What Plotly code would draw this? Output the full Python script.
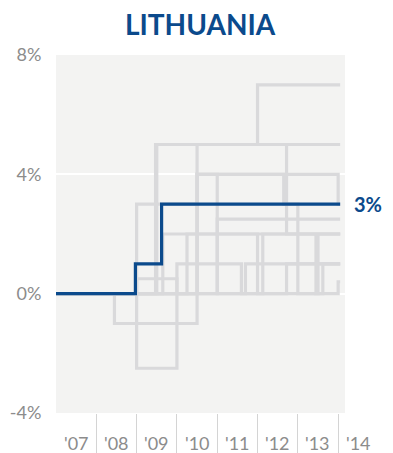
import plotly.graph_objects as go

# ---------------- data ----------------
title_text = "LITHUANIA"
start_year = 2007
end_year = 2014.05
year_labels = ["'07", "'08", "'09", "'10", "'11", "'12", "'13", "'14"]
label_years = [2007, 2008, 2009, 2010, 2011, 2012, 2013, 2014]
sep_years = [2008, 2009, 2010, 2011, 2012, 2013, 2014]
y_ticks = [-4, 0, 4, 8]
y_ticktext = ["-4%", "0%", "4%", "8%"]

# Lithuania: change points (year, value %)
lt_years = [2007, 2008.97, 2009.62]
lt_values = [0, 1, 3]

# other countries (gray): change points
g1_years = [2007, 2009.47, 2012.0];               g1_values = [0, 5, 7]
g2_years = [2007, 2008.45, 2010.5, 2012.72];      g2_values = [0, -1, 5, 2]
g3_years = [2007, 2009.0, 2010.5, 2014.0];        g3_values = [0, 3, 4, 3]
g4_years = [2007, 2009.0, 2010.0, 2011.6, 2011.7]; g4_values = [0, -2.5, 1, 0, 1]
g5_years = [2007, 2009.0, 2010.0, 2014.0];        g5_values = [0, 0.5, 0, 0.4]
g6_years = [2007, 2009.65, 2012.0, 2012.13];      g6_values = [0, 2, 0, 2]
g7_years = [2007, 2010.25, 2013.45, 2013.5];      g7_values = [0, 2, 0, 2]
g8_years = [2007, 2011.0];                        g8_values = [0, 2.5]
g9_years = [2007, 2010.5, 2011.0, 2012.72, 2013.0, 2013.62]; g9_values = [0, 4, 0, 1, 0, 1]
g10_years = [2007, 2009.5];                       g10_values = [0, 5]
g11_years = [2007, 2010.5, 2012.65, 2013.0];      g11_values = [0, 4, 3, 1]

gray_series = [
    (g1_years, g1_values), (g2_years, g2_values), (g3_years, g3_values),
    (g4_years, g4_values), (g5_years, g5_values), (g6_years, g6_values),
    (g7_years, g7_values), (g8_years, g8_values), (g9_years, g9_values),
    (g10_years, g10_values), (g11_years, g11_values),
]

# ---------------- style ----------------
BLUE = "#0b4a8c"
GRAY_LINE = "#d9d9db"
LABEL_GRAY = "#8c8c8c"
BG = "#f3f3f2"
FONT = "Lato"

x_range = [2007, 2014.17]

fig = go.Figure()

def extend(xs, ys):
    # hold last value until end of data
    return list(xs) + [end_year], list(ys) + [ys[-1]]

for xs, ys in gray_series:
    X, Y = extend(xs, ys)
    fig.add_trace(go.Scatter(x=X, y=Y, mode="lines", line=dict(color=GRAY_LINE, width=3.2, shape="hv"),
                             hoverinfo="skip", showlegend=False))

X, Y = extend(lt_years, lt_values)
fig.add_trace(go.Scatter(x=X, y=Y, mode="lines", line=dict(color=BLUE, width=3.2, shape="hv"),
                         hoverinfo="skip", showlegend=False))

# end label
fig.add_annotation(x=end_year, y=lt_values[-1], xref="x", yref="y", text="<b>%d%%</b>" % lt_values[-1],
                   showarrow=False, xanchor="left", yanchor="middle", xshift=12,
                   font=dict(family=FONT, size=20, color=BLUE))

# year labels under the axis (centred on each year)
span = x_range[1] - x_range[0]
for yr, lab in zip(label_years, year_labels):
    fig.add_annotation(x=(yr + 0.5 - x_range[0]) / span, y=0, xref="paper", yref="paper",
                       text=lab, showarrow=False, xanchor="center", yanchor="middle", yshift=-30,
                       font=dict(family=FONT, size=18, color=LABEL_GRAY))

# page body has an 8px margin, so the figure is 8px smaller than the window
fig.update_layout(
    width=385, height=445,
    margin=dict(l=48, r=48, t=47, b=40, autoexpand=False),
    paper_bgcolor="white",
    plot_bgcolor=BG,
    title=dict(text="<b>%s</b>" % title_text, x=0.499, xanchor="center", y=0.961, yanchor="middle",
               yref="container", font=dict(family=FONT, size=28, color=BLUE)),
    xaxis=dict(range=x_range, showgrid=False, zeroline=False, showline=False, automargin=False,
               tickvals=sep_years, showticklabels=False, ticks="outside", ticklen=42,
               tickwidth=1, tickcolor="#d4d4d4", fixedrange=True),
    yaxis=dict(range=[-4, 8], tickvals=y_ticks, ticktext=y_ticktext, showgrid=True, automargin=False,
               gridcolor="white", gridwidth=2, zeroline=False, showline=False,
               ticks="outside", ticklen=10, tickcolor="rgba(0,0,0,0)",
               tickfont=dict(family=FONT, size=18, color=LABEL_GRAY), fixedrange=True),
)

fig.write_html("out.html")
